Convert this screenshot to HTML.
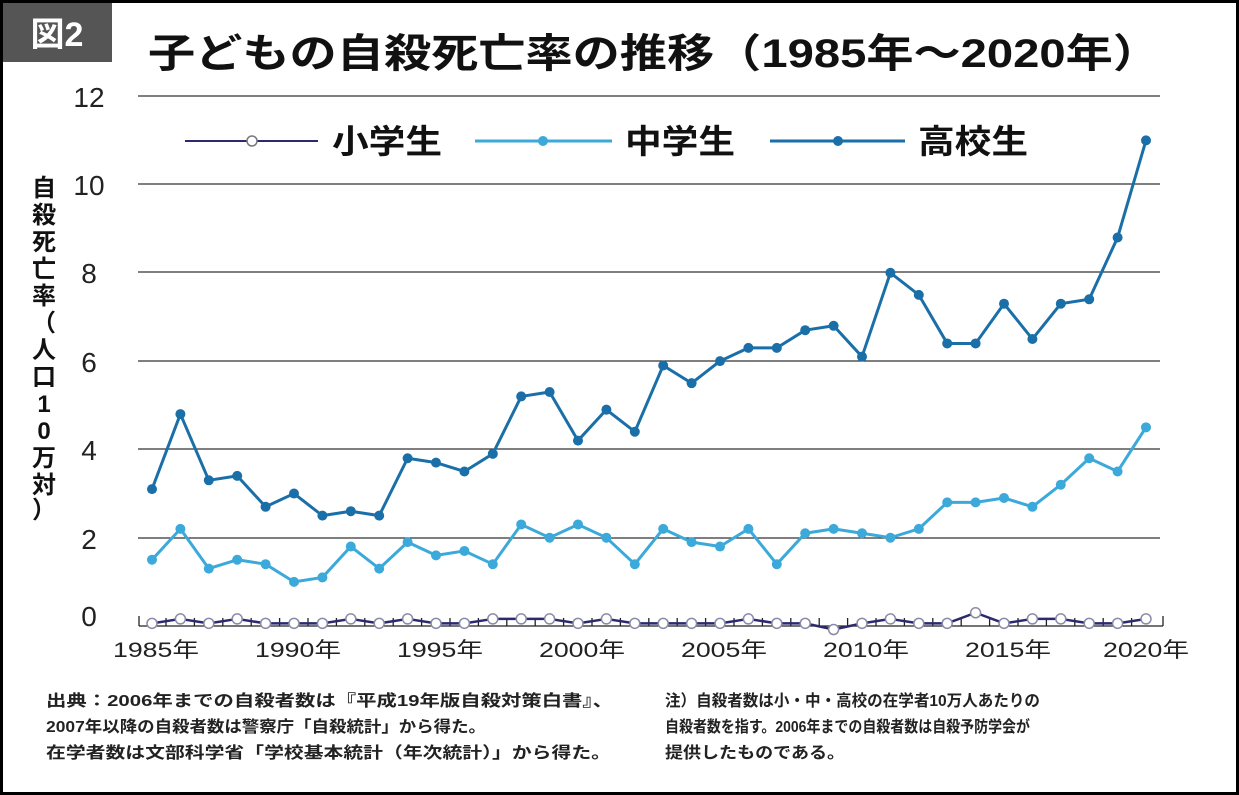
<!DOCTYPE html>
<html><head><meta charset="utf-8"><style>
html,body{margin:0;padding:0;background:#fff}
body{width:1239px;height:795px;position:relative;overflow:hidden;font-family:"Liberation Sans","Noto Sans CJK JP",sans-serif}
</style></head><body>
<svg id="s" width="1239" height="795" xmlns="http://www.w3.org/2000/svg" style="position:absolute;left:0;top:0" font-family="Liberation Sans, Noto Sans CJK JP, sans-serif">
<rect x="1.5" y="1.5" width="1236" height="792" fill="#fff" stroke="#000" stroke-width="3"/>
<rect x="3" y="3" width="109" height="59" fill="#555"/>
<text x="57" y="46" font-size="34" font-weight="bold" fill="#fff" text-anchor="middle">図2</text>
<text x="148" y="67" font-size="40" font-weight="bold" fill="#111" textLength="1012" lengthAdjust="spacingAndGlyphs">子どもの自殺死亡率の推移（1985年〜2020年）</text>
<g stroke="#333" stroke-width="1.3">
<line x1="138" y1="96" x2="1160" y2="96"/><line x1="138" y1="184" x2="1160" y2="184"/>
<line x1="138" y1="272" x2="1160" y2="272"/><line x1="138" y1="361" x2="1160" y2="361"/>
<line x1="138" y1="449" x2="1160" y2="449"/><line x1="138" y1="538" x2="1160" y2="538"/>
</g>
<g font-size="28" fill="#222" text-anchor="middle">
<text x="89" y="107">12</text><text x="89" y="195">10</text><text x="89" y="283">8</text>
<text x="89" y="372">6</text><text x="89" y="460">4</text><text x="89" y="549">2</text><text x="89" y="626">0</text>
</g>
<g font-size="21" fill="#222" text-anchor="middle">
<text x="156" y="657" textLength="86" lengthAdjust="spacingAndGlyphs">1985年</text><text x="298" y="657" textLength="86" lengthAdjust="spacingAndGlyphs">1990年</text><text x="440" y="657" textLength="86" lengthAdjust="spacingAndGlyphs">1995年</text>
<text x="582" y="657" textLength="86" lengthAdjust="spacingAndGlyphs">2000年</text><text x="724" y="657" textLength="86" lengthAdjust="spacingAndGlyphs">2005年</text><text x="866" y="657" textLength="86" lengthAdjust="spacingAndGlyphs">2010年</text>
<text x="1008" y="657" textLength="86" lengthAdjust="spacingAndGlyphs">2015年</text><text x="1146" y="657" textLength="86" lengthAdjust="spacingAndGlyphs">2020年</text>
</g>
<g font-size="24" font-weight="bold" fill="#111" text-anchor="middle">
<text x="44" y="196">自</text><text x="44" y="223">殺</text><text x="44" y="250">死</text><text x="44" y="277">亡</text><text x="44" y="304">率</text>
<text x="44" y="331">（</text><text x="44" y="358">人</text><text x="44" y="385">口</text><text x="44" y="412">1</text><text x="44" y="439">0</text>
<text x="44" y="466">万</text><text x="44" y="493">対</text><text x="44" y="518">）</text>
</g>
<line x1="185" y1="141" x2="318" y2="141" stroke="#2b2a6e" stroke-width="2"/>
<circle cx="252" cy="141" r="5" fill="#fff" stroke="#777" stroke-width="1.5"/>
<text x="332" y="153" font-size="33" font-weight="bold" fill="#111" textLength="110" lengthAdjust="spacingAndGlyphs">小学生</text>
<line x1="475" y1="141" x2="612" y2="141" stroke="#3ba9d9" stroke-width="3"/>
<circle cx="543" cy="141" r="5" fill="#3ba9d9"/>
<text x="625" y="153" font-size="33" font-weight="bold" fill="#111" textLength="110" lengthAdjust="spacingAndGlyphs">中学生</text>
<line x1="770" y1="141" x2="905" y2="141" stroke="#1a6fa8" stroke-width="3"/>
<circle cx="838" cy="141" r="5" fill="#1a6fa8"/>
<text x="918" y="153" font-size="33" font-weight="bold" fill="#111" textLength="110" lengthAdjust="spacingAndGlyphs">高校生</text>
<g font-size="16" fill="#222" font-weight="bold">
<text x="46" y="706" textLength="567" lengthAdjust="spacingAndGlyphs">出典：2006年までの自殺者数は『平成19年版自殺対策白書』、</text>
<text x="46" y="732" textLength="440" lengthAdjust="spacingAndGlyphs">2007年以降の自殺者数は警察庁「自殺統計」から得た。</text>
<text x="46" y="758" textLength="565" lengthAdjust="spacingAndGlyphs">在学者数は文部科学省「学校基本統計（年次統計）」から得た。</text>
<text x="665" y="706" textLength="375" lengthAdjust="spacingAndGlyphs">注）自殺者数は小・中・高校の在学者10万人あたりの</text>
<text x="665" y="732" textLength="365" lengthAdjust="spacingAndGlyphs">自殺者数を指す。2006年までの自殺者数は自殺予防学会が</text>
<text x="665" y="758" textLength="180" lengthAdjust="spacingAndGlyphs">提供したものである。</text>
</g>
<g id="d"></g>
</svg>
<script>
var X=function(i){return 152+i*28.4},Y=function(v){return 626-44.15*v};
var hi=[3.1,4.8,3.3,3.4,2.7,3.0,2.5,2.6,2.5,3.8,3.7,3.5,3.9,5.2,5.3,4.2,4.9,4.4,5.9,5.5,6.0,6.3,6.3,6.7,6.8,6.1,8.0,7.5,6.4,6.4,7.3,6.5,7.3,7.4,8.8,11.0];
var mid=[1.5,2.2,1.3,1.5,1.4,1.0,1.1,1.8,1.3,1.9,1.6,1.7,1.4,2.3,2.0,2.3,2.0,1.4,2.2,1.9,1.8,2.2,1.4,2.1,2.2,2.1,2.0,2.2,2.8,2.8,2.9,2.7,3.2,3.8,3.5,4.5];
var p="LHLHLLLHLHLLHHHLHLLLLHLLXLHLLTLHHLLH",el=[];
for(var i=0;i<36;i++){var c=p[i];el.push(c=="H"?0.16:c=="X"?-0.08:c=="T"?0.3:0.06);}
var s="";
s+='<line x1="139" y1="626" x2="1163" y2="626" stroke="#222" stroke-width="1.3"/>';
for(var i=0;i<36;i++){var x=X(i)+14;if(i<35)s+='<line x1="'+x+'" y1="618" x2="'+x+'" y2="626" stroke="#222" stroke-width="1.3"/>';}
s+='<line x1="139" y1="616" x2="139" y2="626" stroke="#222" stroke-width="1.3"/><line x1="1163" y1="616" x2="1163" y2="626" stroke="#222" stroke-width="1.3"/>';
function series(a,col,w,fill,stroke){var pts=a.map(function(v,i){return X(i)+','+Y(v)}).join(' ');
var r='<polyline points="'+pts+'" fill="none" stroke="'+col+'" stroke-width="'+w+'" stroke-linejoin="round"/>';
a.forEach(function(v,i){r+='<circle cx="'+X(i)+'" cy="'+Y(v)+'" r="5" fill="'+fill+'"'+(stroke?' stroke="'+stroke+'" stroke-width="1.5"':'')+'/>';});return r;}
s+=series(el,"#2b2a6e",2.5,"#fff","#8a8aa8");
s+=series(mid,"#3ba9d9",3,"#3ba9d9");
s+=series(hi,"#1a6fa8",3,"#1a6fa8");
document.getElementById("d").innerHTML=s;
</script>
</body></html>
